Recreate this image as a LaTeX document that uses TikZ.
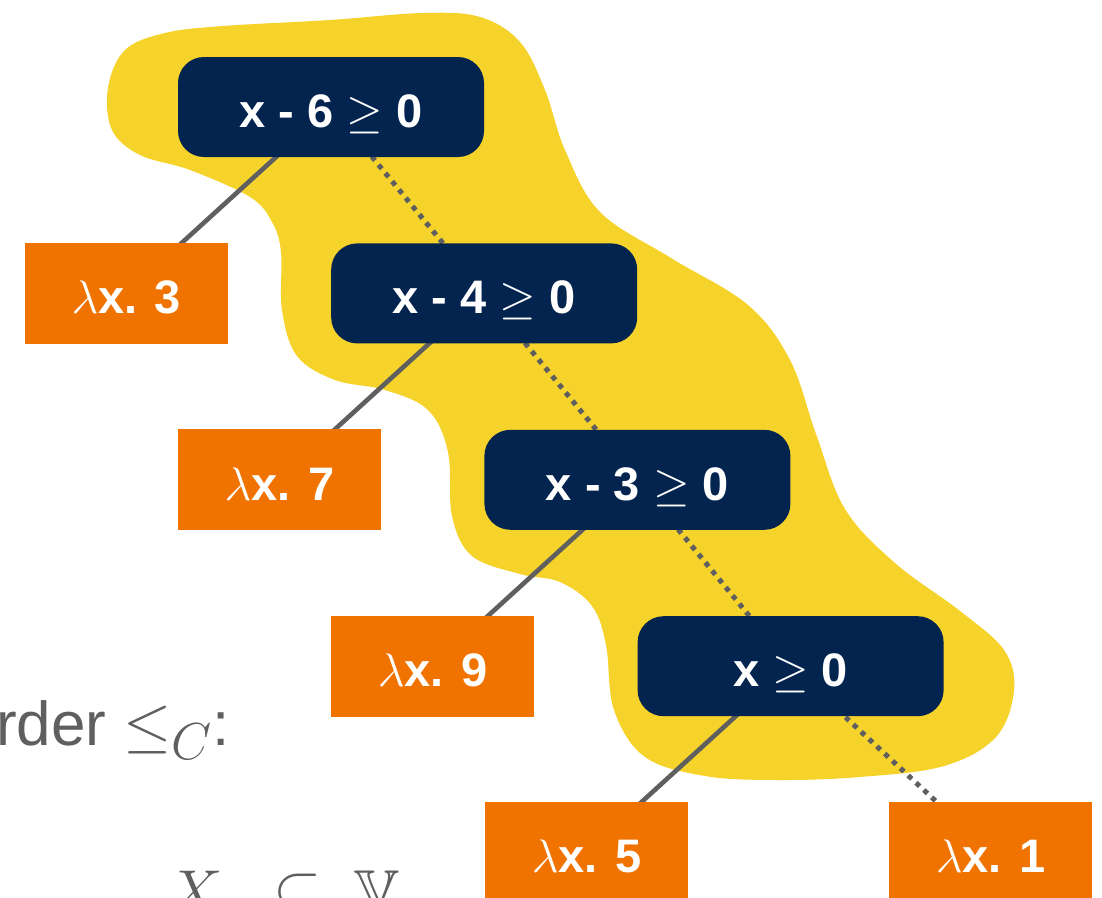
\RequirePackage{fix-cm}
\documentclass[tikz,border=0pt]{standalone}
\usepackage{amssymb}
\usepackage{fontspec}
\setsansfont{Liberation Sans}
\DeclareMathSizes{62}{62}{52}{42}
\usetikzlibrary{positioning,backgrounds}
\definecolor{navy}{HTML}{03244F}
\definecolor{leaforange}{HTML}{F07300}
\definecolor{gold}{HTML}{F5D32A}
\definecolor{slate}{HTML}{5F5F5F}
\tikzset{
  base/.style={font=\sffamily\bfseries\fontsize{47}{56}\selectfont,text=white,inner sep=0pt,align=center,text height=41pt,text depth=0pt},
  cond/.style={base,fill=navy,rounded corners=26pt,minimum width=306pt,minimum height=100pt},
  leaf/.style={base,fill=leaforange,minimum width=203pt,minimum height=101pt},
  yes/.style={draw=slate,line width=4.6pt},
  no/.style={yes,line width=5pt,dash pattern=on 5pt off 5.7pt},
  caption/.style={font=\sffamily\fontsize{62}{70}\selectfont,text=slate,inner sep=0pt,anchor=base west}
}

\begin{document}
\begin{tikzpicture}[x=1pt,y=-1pt]
\useasboundingbox (0,0) rectangle (1102,897);
\clip (0,0) rectangle (1102,897);

\node[cond] (x6) at (331,107) {x - 6 $\geq$ 0};
\node[cond,below=86pt of x6.south east] (x4) {x - 4 $\geq$ 0};
\node[cond,below=86pt of x4.south east] (x3) {x - 3 $\geq$ 0};
\node[cond,below=86pt of x3.south east] (x0) {x $\geq$ 0};

\node[leaf,left=103pt of x4] (lam3) {$\lambda$x. 3};
\node[leaf,left=103pt of x3] (lam7) {$\lambda$x. 7};
\node[leaf,left=103pt of x0] (lam9) {$\lambda$x. 9};
\node[leaf,below=85pt of x0.south,xshift=-204pt] (lam5) {$\lambda$x. 5};
\node[leaf,below=85pt of x0.south,xshift=200pt] (lam1) {$\lambda$x. 1};

\node[caption] (order) at (-4,745) {rder $\leq_C$:};
\node[caption] (subset) at (167,913) {$X\hspace{34pt}\subseteq\hspace{15pt}\mathbb{V}$};

\begin{scope}[on background layer]
% highlighted path through the tree
\fill[gold] plot[smooth cycle,tension=0.6] coordinates {
  (108,88) (125,50) (165,33) (223,26) (330,20) (423,13) (480,17) (520,42)
  (545,90) (565,150) (600,212) (671,258) (748,305) (790,360) (816,434)
  (845,509) (895,563) (960,611) (1004,650) (1014,690) (996,737) (944,766)
  (860,777) (777,780) (705,776) (645,757) (614,710) (606,645) (592,606)
  (560,582) (520,574) (472,556) (452,516) (448,452) (428,410) (385,390)
  (335,380) (297,356) (282,310) (281,252) (272,222) (250,197) (190,170)
  (140,155) (112,130)};
\draw[yes] (x6.center) -- (lam3.center);
\draw[no] (x6.center) -- (x4.center);
\draw[yes] (x4.center) -- (lam7.center);
\draw[no] (x4.center) -- (x3.center);
\draw[yes] (x3.center) -- (lam9.center);
\draw[no] (x3.center) -- (x0.center);
\draw[yes] (x0.center) -- (lam5.center);
\draw[no] (x0.center) -- (lam1.center);
\end{scope}
\end{tikzpicture}
\end{document}
